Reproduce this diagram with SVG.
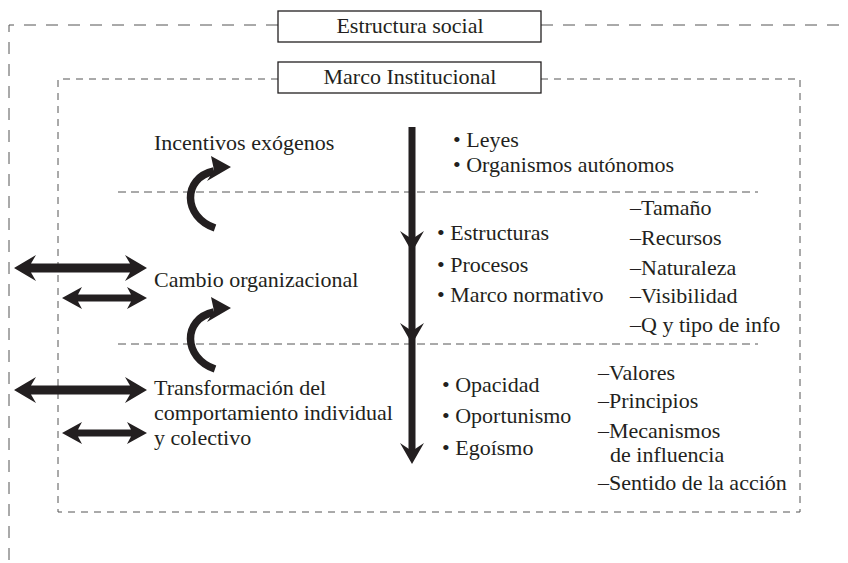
<svg xmlns="http://www.w3.org/2000/svg" xmlns:xlink="http://www.w3.org/1999/xlink" width="848" height="563" viewBox="0 0 848 563">
<style>
.t{font-family:'Liberation Serif','Times New Roman',serif;font-size:22px;fill:#231f20}
.c{text-anchor:middle}
.dash{fill:none;stroke:#555;stroke-width:1}
.outer{stroke-dasharray:12 10}
.inner{stroke-dasharray:7 6}
.sep{stroke-dasharray:8 5}
.box{fill:#fff;stroke:#231f20;stroke-width:1.3}
.fill{fill:#231f20}
.curve{fill:none;stroke:#231f20;stroke-width:7.5}
</style>
<defs>
<path id="dblBig" class="fill" d="M14,0 L36,-13 L31,-4.5 L130,-4.5 L125,-13 L147,0 L125,13 L130,4.5 L31,4.5 L36,13 Z"/>
<path id="dblSmall" class="fill" d="M62,0 L82,-11 L78,-3.5 L131,-3.5 L127,-11 L147,0 L127,11 L131,3.5 L78,3.5 L82,11 Z"/>
<g id="curveArrow">
<path class="curve" d="M215,228 C183,217 182,178 214,171"/>
<path class="fill" d="M231,167 L211,156 L214,170 L207,181 Z"/>
</g>
<path id="vhead" class="fill" d="M0,0 L12,-21 L0,-13 L-12,-21 Z"/>
</defs>

<g id="frames">
<path class="dash outer" d="M278,25 H9 V563"/>
<path class="dash outer" d="M541,25 H848"/>
<path class="dash inner" d="M278,79 H58 V512 H800 V79 H541"/>
<path class="dash sep" d="M118,192 H758"/>
<path class="dash sep" d="M118,344 H758"/>
</g>

<g id="estructura-social">
<rect class="box" x="278" y="11" width="263" height="31"/>
<text class="t c" x="410" y="33">Estructura social</text>
</g>

<g id="marco-institucional">
<rect class="box" x="278" y="62" width="263" height="31"/>
<text class="t c" x="410" y="84">Marco Institucional</text>
</g>

<g id="incentivos">
<text class="t" x="154" y="150">Incentivos exógenos</text>
</g>

<g id="cambio">
<text class="t" x="154" y="287">Cambio organizacional</text>
</g>

<g id="transformacion">
<text class="t" x="154" y="395">Transformación del</text>
<text class="t" x="154" y="420">comportamiento individual</text>
<text class="t" x="154" y="445">y colectivo</text>
</g>

<g id="nivel1">
<text class="t" x="453" y="147">• Leyes</text>
<text class="t" x="453" y="172">• Organismos autónomos</text>
</g>

<g id="nivel2">
<text class="t" x="437" y="240">• Estructuras</text>
<text class="t" x="437" y="272">• Procesos</text>
<text class="t" x="437" y="302">• Marco normativo</text>
</g>

<g id="nivel2-detalle">
<text class="t" x="630" y="215">–Tamaño</text>
<text class="t" x="630" y="245">–Recursos</text>
<text class="t" x="630" y="275">–Naturaleza</text>
<text class="t" x="630" y="303">–Visibilidad</text>
<text class="t" x="630" y="332">–Q y tipo de info</text>
</g>

<g id="nivel3">
<text class="t" x="442" y="392">• Opacidad</text>
<text class="t" x="442" y="423">• Oportunismo</text>
<text class="t" x="442" y="455">• Egoísmo</text>
</g>

<g id="nivel3-detalle">
<text class="t" x="598" y="380">–Valores</text>
<text class="t" x="598" y="408">–Principios</text>
<text class="t" x="598" y="438">–Mecanismos</text>
<text class="t" x="610" y="462">de influencia</text>
<text class="t" x="598" y="490">–Sentido de la acción</text>
</g>

<g id="connectors">
<rect class="fill" x="408.5" y="127" width="7" height="326"/>
<use xlink:href="#vhead" href="#vhead" transform="translate(412,252)"/>
<use xlink:href="#vhead" href="#vhead" transform="translate(412,344)"/>
<use xlink:href="#vhead" href="#vhead" transform="translate(412,464)"/>
<use xlink:href="#curveArrow" href="#curveArrow"/>
<use xlink:href="#curveArrow" href="#curveArrow" transform="translate(0,141)"/>
<use xlink:href="#dblBig" href="#dblBig" transform="translate(0,268)"/>
<use xlink:href="#dblSmall" href="#dblSmall" transform="translate(0,298)"/>
<use xlink:href="#dblBig" href="#dblBig" transform="translate(0,390)"/>
<use xlink:href="#dblSmall" href="#dblSmall" transform="translate(0,433)"/>
</g>
</svg>
